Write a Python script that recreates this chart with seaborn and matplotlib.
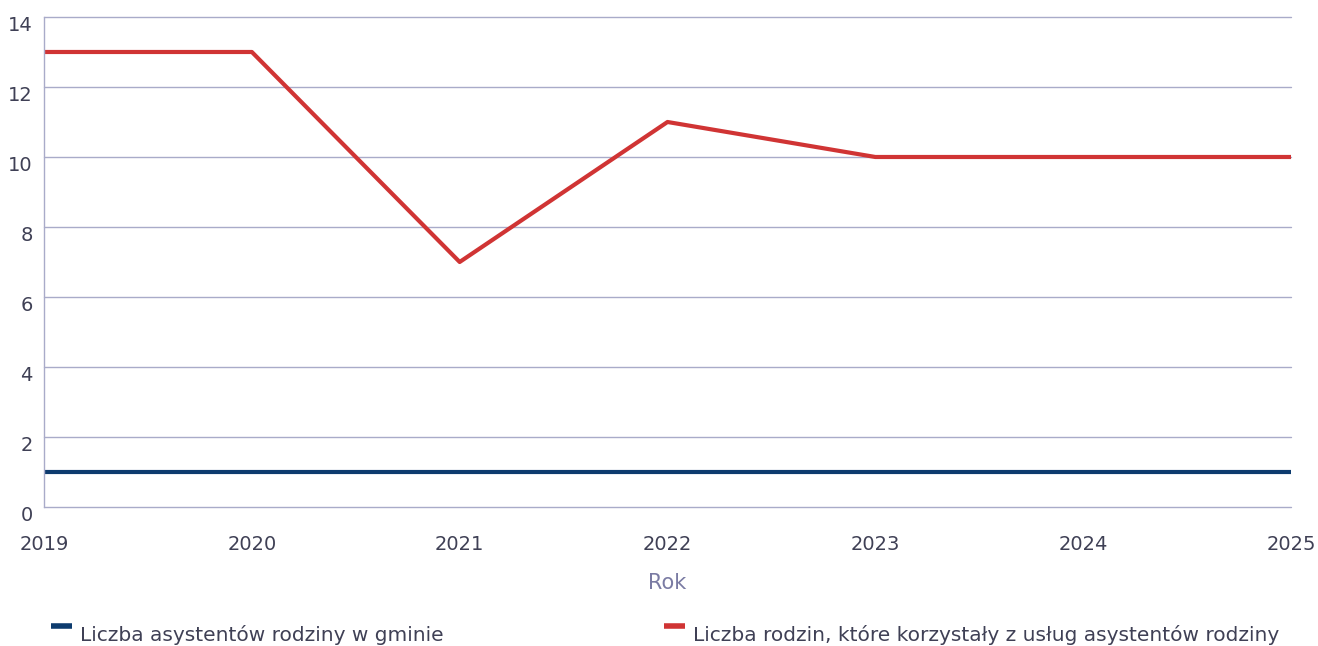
import numpy as np
import pandas as pd
import matplotlib
matplotlib.use('Agg')
import matplotlib.pyplot as plt
import matplotlib.transforms as mtransforms
from matplotlib.lines import Line2D
from matplotlib.legend_handler import HandlerLine2D
import seaborn as sns

years = [2019, 2020, 2021, 2022, 2023, 2024, 2025]
asystenci = [1, 1, 1, 1, 1, 1, 1]
rodziny = [13, 13, 7, 11, 10, 10, 10]
y_ticks = [0, 2, 4, 6, 8, 10, 12, 14]

name_a = 'Liczba asystentów rodziny w gminie'
name_r = 'Liczba rodzin, które korzystały z usług asystentów rodziny'

df = pd.DataFrame({
    'Rok': years * 2,
    'value': asystenci + rodziny,
    'series': [name_a] * len(years) + [name_r] * len(years),
})

sns.set_theme(style='white')
plt.rcParams['font.family'] = ['DejaVu Sans']

text_col = '#3f4055'
grid_col = '#a9abc9'
palette = {name_a: '#0d3b6e', name_r: '#d03434'}


class RaisedLine(HandlerLine2D):
    # legend dash sits at cap height, like in the original
    def create_artists(self, legend, orig_handle, xdescent, ydescent,
                       width, height, fontsize, trans):
        arts = super().create_artists(legend, orig_handle, xdescent, ydescent,
                                      width, height, fontsize, trans)
        for a in arts:
            a.set_ydata(np.asarray(a.get_ydata()) + height * 0.55)
        return arts


fig = plt.figure(figsize=(13.18, 6.46), dpi=100)
ax = fig.add_axes([0.0334, 0.2152, 0.9461, 0.7585])

sns.lineplot(data=df, x='Rok', y='value', hue='series', palette=palette,
             linewidth=3.0, ax=ax, legend=False)

ax.set_xlim(years[0], years[-1])
ax.set_ylim(0, 14)
ax.set_xticks(years)
ax.set_yticks(y_ticks)
ax.yaxis.grid(True, color=grid_col, linewidth=1)
ax.set_axisbelow(True)
for gl in ax.yaxis.get_gridlines():
    gl.set_clip_on(False)
for s in ['top', 'right', 'bottom']:
    ax.spines[s].set_visible(False)
ax.spines['left'].set_color(grid_col)
ax.spines['left'].set_linewidth(1)

ax.tick_params(axis='both', length=0, labelsize=14, colors=text_col)
ax.tick_params(axis='x', pad=20)
ax.tick_params(axis='y', pad=8)
offset = mtransforms.ScaledTranslation(0, -7 / 100, fig.dpi_scale_trans)
for lab in ax.get_yticklabels():
    lab.set_transform(lab.get_transform() + offset)

ax.set_ylabel('')
ax.set_xlabel('Rok', fontsize=15, color='#7a7ba3', labelpad=14)

h_a = Line2D([], [], color=palette[name_a], linewidth=4, solid_capstyle='butt')
h_r = Line2D([], [], color=palette[name_r], linewidth=4, solid_capstyle='butt')
leg_kw = dict(loc='center left', frameon=False, fontsize=14.5, handlelength=1.05,
              handletextpad=0.4, labelcolor=text_col,
              handler_map={Line2D: RaisedLine()})
fig.legend([h_a], [name_a], bbox_to_anchor=(0.025, 0.017), **leg_kw)
fig.legend([h_r], [name_r], bbox_to_anchor=(0.4902, 0.017), **leg_kw)

fig.savefig('out.png', dpi=100)
